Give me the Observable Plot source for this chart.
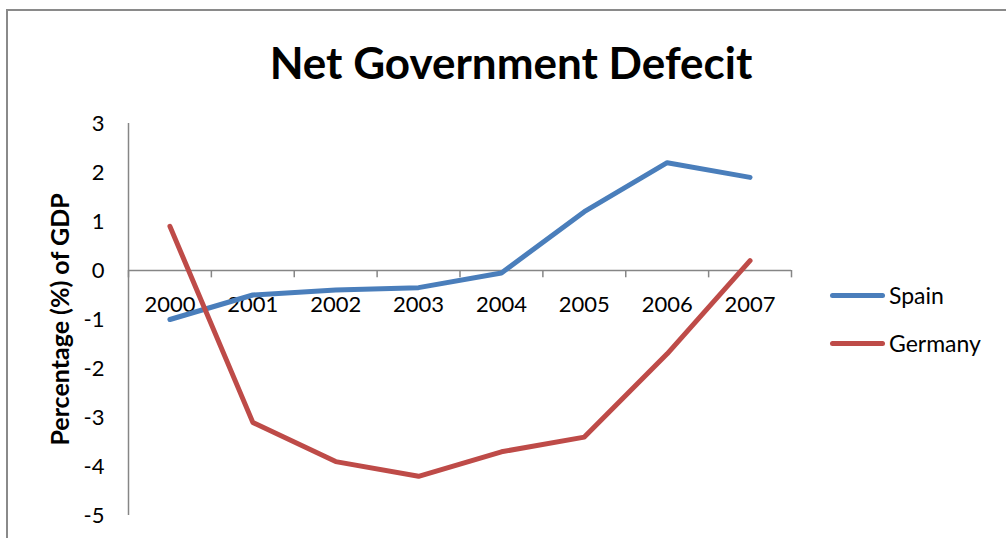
<!DOCTYPE html>
<html>
<head>
<meta charset="utf-8">
<script src="https://cdn.jsdelivr.net/npm/d3@7"></script>
<script src="https://cdn.jsdelivr.net/npm/@observablehq/plot@0.6"></script>
<style>
  html, body { margin: 0; padding: 0; background: #fff; }
  #wrap { position: relative; width: 1006px; height: 538px; overflow: hidden; font-family: Lato, "Open Sans", sans-serif; }
  #border { position: absolute; left: 6px; top: 9px; width: 1020px; height: 560px; border: 2px solid #8a8a8a; box-sizing: border-box; }
  #title { position: absolute; left: 0; width: 1022px; top: 36px; text-align: center; font-weight: bold; font-size: 44px; line-height: 52px; color: #000; }
  #chart { position: absolute; left: 0; top: 0; }
  .legend { position: absolute; left: 830px; font-size: 23px; color: #000; display: flex; align-items: center; height: 30px; }
  .legend .sw { width: 55px; height: 5px; border-radius: 3px; margin-right: 4px; }
</style>
</head>
<body>
<div id="wrap">
  <div id="border"></div>
  <div id="chart"></div>
  <div id="title"></div>
  <div id="legend"></div>
</div>
<script>
const chartTitle = "Net Government Defecit";
const yLabel = "Percentage (%) of GDP";
const years = ["2000", "2001", "2002", "2003", "2004", "2005", "2006", "2007"];
const spain = [-1.0, -0.5, -0.4, -0.35, -0.05, 1.2, 2.2, 1.9];
const germany = [0.9, -3.1, -3.9, -4.2, -3.7, -3.4, -1.7, 0.2];
const yTicks = [-5, -4, -3, -2, -1, 0, 1, 2, 3];
const seriesNames = ["Spain", "Germany"];
const seriesColors = ["#4a7ebb", "#be4b48"];

const idx = years.map((_, i) => i);
const boundaries = d3.range(0, years.length + 1).map(i => i - 0.5);
const rows = [];
[spain, germany].forEach((vals, s) => vals.forEach((v, i) => rows.push({series: seriesNames[s], i, v})));

const axisColor = "#868686";
const fontFamily = "Lato, 'Open Sans', sans-serif";

const plot = Plot.plot({
  width: 1006,
  height: 538,
  marginLeft: 128,
  marginRight: 215,
  marginTop: 123,
  marginBottom: 23,
  style: {fontFamily, fontSize: "22px", color: "#000", background: "transparent"},
  x: {domain: [-0.5, years.length - 0.5], axis: null},
  y: {domain: [-5, 3], axis: null},
  color: {domain: seriesNames, range: seriesColors},
  marks: [
    Plot.axisY(yTicks, {tickSize: 0, tickPadding: 24, fontSize: 22, label: null, fill: "#000", tickFormat: d => String(d)}),
    Plot.text([yLabel], {frameAnchor: "left", textAnchor: "middle", dx: -68, rotate: -90, fontWeight: "bold", fontSize: 25, text: d => d, fill: "#000"}),
    Plot.ruleX([boundaries[0]], {y1: yTicks[0], y2: yTicks[yTicks.length - 1], stroke: axisColor, strokeWidth: 1.5}),
    Plot.ruleY([0], {x1: boundaries[0], x2: boundaries[boundaries.length - 1], stroke: axisColor, strokeWidth: 1.5}),
    Plot.ruleX(boundaries, {y1: 0, y2: -0.15, stroke: axisColor, strokeWidth: 1.5}),
    Plot.text(idx, {x: d => d, y: () => 0, dy: 34, text: d => years[d], fontSize: 22, fill: "#000"}),
    Plot.line(rows, {x: "i", y: "v", z: "series", stroke: "series", strokeWidth: 5, strokeLinecap: "round", strokeLinejoin: "round"})
  ]
});
document.getElementById("chart").appendChild(plot);
document.getElementById("title").textContent = chartTitle;

const legend = document.getElementById("legend");
const legendTops = [280, 328];
seriesNames.forEach((name, k) => {
  const item = document.createElement("div");
  item.className = "legend";
  item.style.top = legendTops[k] + "px";
  const sw = document.createElement("div");
  sw.className = "sw";
  sw.style.background = seriesColors[k];
  const label = document.createElement("span");
  label.textContent = name;
  item.appendChild(sw);
  item.appendChild(label);
  legend.appendChild(item);
});
</script>
</body>
</html>
